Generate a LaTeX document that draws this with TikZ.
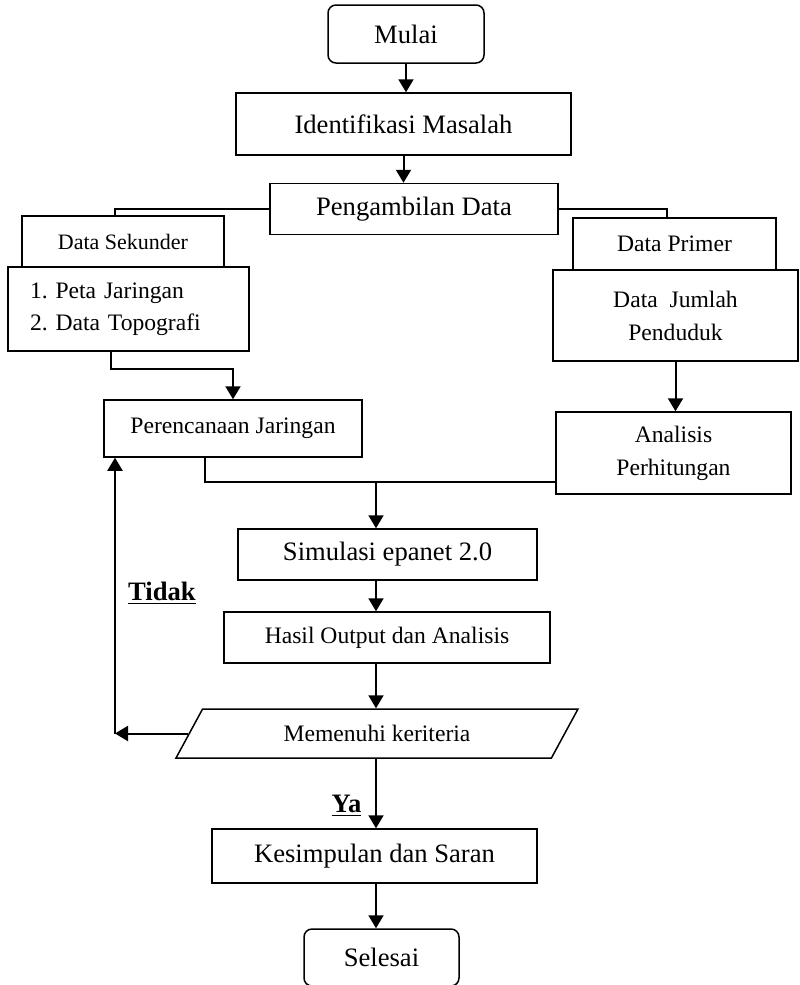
\documentclass[tikz,border=0pt]{standalone}
\usepackage{fontspec}
\setmainfont{Liberation Serif}
\usetikzlibrary{arrows.meta,shapes.geometric}
\frenchspacing

\tikzset{
  kotak/.style={draw, line width=0.75pt, inner sep=0pt, align=center, font=\fontsize{11.8}{16.5}\selectfont},
  kotakbesar/.style={kotak, font=\fontsize{13.3}{16}\selectfont},
  ujung/.style={kotakbesar, rounded corners=4pt},
  panah/.style={line width=1pt, -{Triangle[length=6.5pt,width=7.5pt]}},
  garis/.style={line width=0.75pt},
  ket/.style={inner sep=0pt, font=\fontsize{13.3}{16}\selectfont\bfseries}
}

\begin{document}
\begin{tikzpicture}[x=0.5pt,y=0.5pt,yscale=-1,xscale=1]
\useasboundingbox (0,0) rectangle (799,985);

%Shape: start
\node [ujung, minimum width=78pt, minimum height=29pt] (mulai) at (406,34) {Mulai};
%Shape: Rectangle
\node [kotakbesar, minimum width=167.5pt, minimum height=31pt] (ident) at (403.5,124) {Identifikasi Masalah};
\node [kotakbesar, minimum width=144pt, minimum height=25.5pt] (ambil) at (414,209) {Pengambilan Data};
%Shape: left branch
\node [kotak, font=\fontsize{11}{14}\selectfont, minimum width=101pt, minimum height=25.5pt] (sekunder) at (123,241.5) {Data Sekunder};
\node [kotak, align=left, text width=98.5pt, inner xsep=11pt, minimum height=42pt, font=\fontsize{11.8}{16}\selectfont] (peta) at (128.5,309) {1. Peta Jaringan\\2. Data Topografi};
\node [kotak, minimum width=129pt, minimum height=28.5pt] (rencana) at (233,428.5) {Perencanaan Jaringan};
%Shape: right branch
\node [kotak, minimum width=101.5pt, minimum height=26pt] (primer) at (674.5,244) {Data Primer};
\node [kotak, minimum width=122.5pt, minimum height=45.5pt] (jumlah) at (675.5,315.5) {Data~ Jumlah\\Penduduk};
\node [kotak, minimum width=117.5pt, minimum height=41pt] (analisis) at (673.5,453) {Analisis\\Perhitungan};
%Shape: middle
\node [kotakbesar, minimum width=149.5pt, minimum height=25.5pt] (simulasi) at (387.5,554.5) {Simulasi epanet 2.0};
\node [kotak, minimum width=163pt, minimum height=25.5pt] (hasil) at (387,637.5) {Hasil Output dan Analisis};
%Shape: Parallelogram
\node [kotak, trapezium, trapezium left angle=32, trapezium right angle=148, trapezium stretches body, minimum width=201pt, minimum height=24.5pt] (kriteria) at (377,733.5) {Memenuhi keriteria};
\node [kotakbesar, minimum width=162.5pt, minimum height=27pt] (simpul) at (374.5,856) {Kesimpulan dan Saran};
%Shape: end
\node [ujung, minimum width=77.5pt, minimum height=28.5pt] (selesai) at (381.5,957.5) {Selesai};

% Text Node
\node [ket] (tidak) at (162,593) {\underline{Tidak}};
% Text Node
\node [ket] (ya) at (346.5,806) {\underline{Ya}};

\coordinate (gabung) at (376,482);
\coordinate (belok) at (115,733.5);

%Straight Lines
\draw [panah] (mulai.south) -- (mulai.south |- ident.north);
\draw [panah] (ident.south) -- (ident.south |- ambil.north);
\draw [garis] (ambil.west) -| ([xshift=-4pt]sekunder.north);
\draw [garis] (ambil.east) -| ([xshift=-3.75pt]primer.north);
\draw [panah] ([xshift=-8.75pt]peta.south) -- ++(0,17) -| (rencana.north);
\draw [panah] (jumlah.south) -- (jumlah.south |- analisis.north);
\draw [garis] ([xshift=-14pt]rencana.south) |- (gabung) -- (gabung -| analisis.west);
\draw [panah] (gabung) -- (gabung |- simulasi.north);
\draw [panah] (gabung |- simulasi.south) -- (gabung |- hasil.north);
\draw [panah] (gabung |- hasil.south) -- (gabung |- kriteria.north);
\draw [panah] (gabung |- kriteria.south) -- (gabung |- simpul.north);
\draw [panah] (gabung |- simpul.south) -- (gabung |- selesai.north);
\draw [panah] (kriteria.west) -- (belok);
\draw [panah] (belok) -- (belok |- rencana.south);

\end{tikzpicture}
\end{document}
